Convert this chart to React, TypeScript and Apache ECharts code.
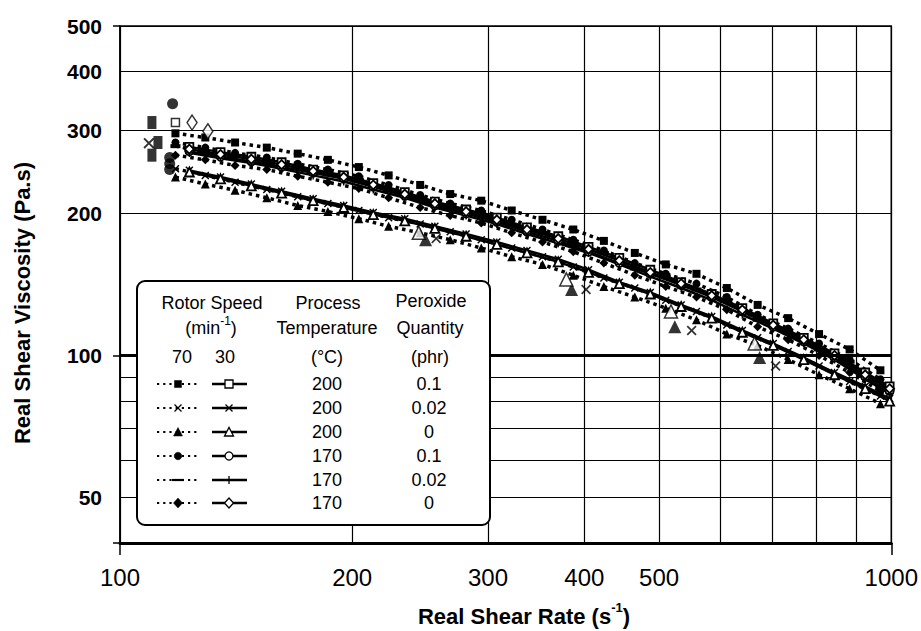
import React, { useEffect, useRef } from 'react';
import * as echarts from 'echarts';

const FONT = "'Liberation Sans', Arial, Helvetica, sans-serif";

// Shear rate (s^-1) of the measured points
const shearRate70 = [118, 129, 141, 155, 170, 186, 204, 223, 245, 268, 294, 322, 353, 387, 424, 465, 510, 559, 612, 671, 735, 806, 883, 968];
const shearRate30 = [123, 135, 148, 162, 178, 195, 213, 234, 256, 281, 308, 337, 370, 405, 444, 487, 534, 585, 641, 703, 770, 844, 925, 995];

// Real shear viscosity (Pa.s) — rotor speed 70 min^-1
const v70_200_01 = [296, 290, 283, 276, 268, 260, 251, 241, 230, 220, 213, 203, 194, 185, 175, 165, 156, 149, 139, 128, 120, 111, 103, 93];
const v70_200_002 = [249, 241, 233, 225, 217, 210, 203, 196, 190, 183, 176, 169, 162, 154, 146, 139, 131, 124, 116, 109, 102, 95, 88, 82];
const v70_200_0 = [239, 231, 224, 216, 208, 202, 195, 188, 182, 176, 169, 162, 156, 148, 140, 133, 126, 119, 111, 105, 98, 91, 85, 79];
const v70_170_01 = [283, 276, 269, 263, 255, 248, 240, 230, 219, 210, 203, 194, 185, 176, 167, 157, 149, 142, 133, 122, 114, 106, 98, 89];
const v70_170_002 = [278, 270, 265, 257, 251, 242, 236, 224, 216, 205, 200, 189, 182, 172, 165, 153, 147, 138, 131, 119, 113, 103, 97, 86];
const v70_170_0 = [266, 260, 253, 248, 240, 233, 226, 216, 206, 198, 191, 182, 174, 166, 157, 148, 140, 133, 125, 115, 108, 100, 92, 84];

// Real shear viscosity (Pa.s) — rotor speed 30 min^-1
const v30_200_01 = [277, 270, 264, 257, 248, 241, 232, 222, 212, 204, 196, 187, 179, 170, 161, 152, 143, 135, 126, 117, 109, 101, 92, 86];
const v30_200_002 = [247, 239, 231, 223, 215, 208, 201, 195, 188, 181, 174, 167, 160, 152, 143, 136, 128, 121, 113, 106, 99, 92, 86, 81];
const v30_200_0 = [245, 237, 229, 221, 213, 206, 199, 193, 186, 179, 172, 165, 158, 150, 142, 135, 127, 120, 112, 105, 98, 91, 85, 80];
const v30_170_01 = [271, 264, 258, 251, 244, 237, 228, 218, 208, 200, 192, 183, 175, 166, 157, 149, 141, 133, 124, 115, 107, 99, 90, 84];
const v30_170_002 = [269, 262, 256, 249, 241, 234, 225, 216, 206, 198, 190, 181, 173, 165, 156, 147, 139, 131, 122, 114, 106, 98, 89, 83];
const v30_170_0 = [274, 267, 261, 254, 246, 239, 230, 220, 210, 202, 194, 185, 177, 168, 159, 150, 142, 134, 125, 116, 108, 100, 91, 85];

// Run-start points [shear rate, viscosity]
const start70_200_01 = [[110, 312], [110, 266], [112, 283]];
const start70_170_01 = [[117, 342], [116, 263], [116, 255], [116, 248]];
const start70_200_002 = [[109, 282]];
const start30_200_01 = [[118, 312]];
const start30_170_0 = [[124, 312], [130, 299]];
const jumps70_200_0 = [[249, 176], [385, 138], [524, 115], [675, 99]];
const jumps30_200_0 = [[244, 182], [379, 145], [518, 124], [665, 106]];
const jumps30_200_002 = [[257, 177], [402, 138], [551, 113], [708, 95]];

// Axes
const xLabelValues = [100, 200, 300, 400, 500, 1000];
const xGridValues = [100, 200, 300, 400, 500, 600, 700, 800, 900, 1000];
const yLabelValues = [50, 100, 200, 300, 400, 500];
const yGridValues = [40, 50, 60, 70, 80, 90, 100, 200, 300, 400, 500];

// Legend table
const legendHeader = ['Rotor Speed', 'Process', 'Peroxide'];
const legendHeader2 = ['Temperature', 'Quantity'];
const speedLabels = ['70', '30'];
const legendTemps = ['200', '200', '200', '170', '170', '170'];
const legendPeroxide = ['0.1', '0.02', '0', '0.1', '0.02', '0'];
const markerKinds = ['square', 'x', 'triangle', 'circle', 'dash', 'diamond'];

const X_PATH = 'path://M1,0L4,3L7,0L8,1L5,4L8,7L7,8L4,5L1,8L0,7L3,4L0,1Z';
const PLUS_PATH = 'path://M3.3,0H4.7V3.3H8V4.7H4.7V8H3.3V4.7H0V3.3H3.3Z';

function symbolFor(kind: string, filled: boolean): { symbol: string; size: any } {
  switch (kind) {
    case 'square': return { symbol: 'rect', size: 8 };
    case 'x': return { symbol: X_PATH, size: 8 };
    case 'triangle': return { symbol: 'triangle', size: 9 };
    case 'circle': return { symbol: 'circle', size: 8 };
    case 'dash': return filled ? { symbol: 'rect', size: [10, 4] } : { symbol: PLUS_PATH, size: 8 };
    default: return { symbol: 'diamond', size: 9 };
  }
}

function lineSeries(name: string, xs: number[], ys: number[], kind: string, filled: boolean) {
  const s = symbolFor(kind, filled);
  const solidMark = kind === 'x' || kind === 'dash';
  return {
    type: 'line',
    name,
    data: xs.map((x, i) => [x, ys[i]]),
    symbol: s.symbol,
    symbolSize: s.size,
    showSymbol: true,
    lineStyle: filled ? { color: '#000', width: 3.5, type: [3.5, 4] } : { color: '#000', width: 2.5 },
    itemStyle: filled || solidMark
      ? { color: '#000', borderWidth: 0 }
      : { color: '#fff', borderColor: '#000', borderWidth: 1.8 },
    z: filled ? 3 : 4,
  };
}

function pointSeries(name: string, pts: number[][], kind: string, filled: boolean, size: any) {
  const s = symbolFor(kind, filled);
  const solidMark = kind === 'x' || kind === 'dash';
  return {
    type: 'scatter',
    name,
    data: pts,
    symbol: s.symbol,
    symbolSize: size,
    itemStyle: filled || solidMark
      ? { color: '#000', borderWidth: 0 }
      : { color: '#fff', borderColor: '#000', borderWidth: 1.5 },
    z: 5,
  };
}

function legendGraphics() {
  const Z = 100;
  const els: any[] = [];
  const txt = (text: string, x: number, y: number, size = 18) => ({
    type: 'text', z: Z + 1, x, y,
    style: {
      text, fill: '#000', fontSize: size, fontFamily: FONT,
      align: 'center', verticalAlign: 'middle', textAlign: 'center', textVerticalAlign: 'middle',
    },
  });
  const ln = (x1: number, y1: number, x2: number, y2: number, w: number, dash?: number[]) => ({
    type: 'line', z: Z + 2,
    shape: { x1, y1, x2, y2 },
    style: { stroke: '#000', lineWidth: w, lineDash: dash || null },
  });
  els.push({
    type: 'rect', z: Z,
    shape: { x: 137, y: 281, width: 353, height: 244, r: 8 },
    style: { fill: '#fff', stroke: '#000', lineWidth: 2 },
  });
  els.push(txt(legendHeader[0], 212, 303));
  els.push(txt(legendHeader[1], 328, 303));
  els.push(txt(legendHeader[2], 431, 301));
  els.push({
    type: 'text', z: Z + 1, x: 211, y: 328,
    style: {
      text: '{a|(min}{b|-1}{a|)}', fontFamily: FONT, fill: '#000',
      align: 'center', verticalAlign: 'middle', textAlign: 'center', textVerticalAlign: 'middle',
      rich: {
        a: { fontSize: 18, lineHeight: 26, fontFamily: FONT, fill: '#000' },
        b: { fontSize: 12, lineHeight: 12, verticalAlign: 'top', fontFamily: FONT, fill: '#000' },
      },
    },
  });
  els.push(txt(legendHeader2[0], 327, 328));
  els.push(txt(legendHeader2[1], 430, 328));
  els.push(txt(speedLabels[0], 182, 357));
  els.push(txt(speedLabels[1], 225, 357));
  els.push(txt('(°C)', 327, 357));
  els.push(txt('(phr)', 430, 357));

  const rowY = [384, 408, 432, 456, 480, 503];
  const mark = (kind: string, cx: number, cy: number, filled: boolean) => {
    const st = { fill: filled ? '#000' : '#fff', stroke: '#000', lineWidth: filled ? 0.5 : 1.3 };
    const Zm = Z + 3;
    switch (kind) {
      case 'square':
        return [{ type: 'rect', z: Zm, shape: filled ? { x: cx - 3.5, y: cy - 3.5, width: 7, height: 7 } : { x: cx - 4, y: cy - 4, width: 8, height: 8 }, style: st }];
      case 'x':
        return [
          { ...ln(cx - 3.5, cy - 3.5, cx + 3.5, cy + 3.5, 1.3), z: Zm },
          { ...ln(cx - 3.5, cy + 3.5, cx + 3.5, cy - 3.5, 1.3), z: Zm },
        ];
      case 'triangle':
        return [{ type: 'polygon', z: Zm, shape: { points: [[cx - 4.5, cy + 4], [cx + 4.5, cy + 4], [cx, cy - 4.5]] }, style: st }];
      case 'circle':
        return [{ type: 'circle', z: Zm, shape: { cx, cy, r: filled ? 3.8 : 4 }, style: st }];
      case 'dash':
        return filled
          ? [{ ...ln(cx - 6, cy, cx + 6, cy, 2.2), z: Zm }]
          : [{ ...ln(cx, cy - 4, cx, cy + 4, 1.3), z: Zm }];
      default:
        return [{ type: 'polygon', z: Zm, shape: { points: [[cx, cy - 5], [cx + 4.5, cy], [cx, cy + 5], [cx - 4.5, cy]] }, style: st }];
    }
  };
  rowY.forEach((y, i) => {
    const kind = markerKinds[i];
    els.push(ln(157, y, 197, y, 2.2, [2.2, 4]));
    els.push(ln(212, y, 247, y, 2.5));
    if (kind === 'dash') {
      els.push({ type: 'rect', z: Z + 2, shape: { x: 172, y: y - 3, width: 12, height: 6 }, style: { fill: '#fff' } });
    }
    els.push(...mark(kind, 178, y, true));
    els.push(...mark(kind, 229, y, false));
    els.push(txt(legendTemps[i], 327, y));
    els.push(txt(legendPeroxide[i], 429, y));
  });
  return els;
}

export default function App() {
  const ref = useRef<HTMLDivElement>(null);
  useEffect(() => {
    if (!ref.current) return;
    const chart = echarts.init(ref.current, undefined, { renderer: 'svg' });
    const series: any[] = [
      lineSeries('70 min-1, 200 °C, 0.1 phr', shearRate70, v70_200_01, 'square', true),
      lineSeries('70 min-1, 200 °C, 0.02 phr', shearRate70, v70_200_002, 'x', true),
      lineSeries('70 min-1, 200 °C, 0 phr', shearRate70, v70_200_0, 'triangle', true),
      lineSeries('70 min-1, 170 °C, 0.1 phr', shearRate70, v70_170_01, 'circle', true),
      lineSeries('70 min-1, 170 °C, 0.02 phr', shearRate70, v70_170_002, 'dash', true),
      lineSeries('70 min-1, 170 °C, 0 phr', shearRate70, v70_170_0, 'diamond', true),
      lineSeries('30 min-1, 200 °C, 0.1 phr', shearRate30, v30_200_01, 'square', false),
      lineSeries('30 min-1, 200 °C, 0.02 phr', shearRate30, v30_200_002, 'x', false),
      lineSeries('30 min-1, 200 °C, 0 phr', shearRate30, v30_200_0, 'triangle', false),
      lineSeries('30 min-1, 170 °C, 0.1 phr', shearRate30, v30_170_01, 'circle', false),
      lineSeries('30 min-1, 170 °C, 0.02 phr', shearRate30, v30_170_002, 'dash', false),
      lineSeries('30 min-1, 170 °C, 0 phr', shearRate30, v30_170_0, 'diamond', false),
      pointSeries('start 70/200/0.1', start70_200_01, 'square', true, [9, 13]),
      pointSeries('start 70/170/0.1', start70_170_01, 'circle', true, 11),
      pointSeries('start 70/200/0.02', start70_200_002, 'x', true, 11),
      pointSeries('start 30/200/0.1', start30_200_01, 'square', false, 8),
      pointSeries('start 30/170/0', start30_170_0, 'diamond', false, [10, 15]),
      pointSeries('jumps 70/200/0', jumps70_200_0, 'triangle', true, 13),
      pointSeries('jumps 30/200/0', jumps30_200_0, 'triangle', false, 13),
      pointSeries('jumps 30/200/0.02', jumps30_200_002, 'x', true, 10),
    ];
    series[0].markLine = {
      silent: true, symbol: 'none', animation: false,
      label: { show: false },
      lineStyle: { color: '#000', width: 3, type: 'solid' },
      data: [{ yAxis: 100 }],
    };
    const fmt = (v: number) => String(Math.round(v));
    chart.setOption({
      animation: false,
      backgroundColor: '#fff',
      grid: { left: 120, right: 27, top: 26, bottom: 88, show: true, borderColor: '#000', borderWidth: 1.5 },
      xAxis: [
        {
          type: 'log', logBase: 10, min: 100, max: 1000,
          axisLine: { show: true, onZero: false, lineStyle: { color: '#000', width: 3 } },
          axisTick: { show: false, customValues: xGridValues },
          axisLabel: { customValues: xLabelValues, formatter: fmt, fontSize: 24, color: '#000', margin: 22, fontFamily: FONT },
          splitLine: { show: true, lineStyle: { color: '#000', width: 1.2 } },
        },
        {
          type: 'log', logBase: 10, min: 100, max: 1000, position: 'bottom',
          axisLine: { show: false }, axisLabel: { show: false }, splitLine: { show: false },
          axisTick: { show: true, customValues: [100, 1000], length: 12, lineStyle: { color: '#000', width: 1.5 } },
        },
      ],
      yAxis: [
        {
          type: 'log', logBase: 10, min: 40, max: 500,
          axisLine: { show: true, onZero: false, lineStyle: { color: '#000', width: 1.5 } },
          axisTick: { show: false, customValues: yGridValues },
          axisLabel: { customValues: yLabelValues, formatter: fmt, fontSize: 21, fontWeight: 'bold', color: '#000', margin: 18, fontFamily: FONT },
          splitLine: { show: true, lineStyle: { color: '#000', width: 1.2 } },
        },
        {
          type: 'log', logBase: 10, min: 40, max: 500, position: 'left',
          axisLine: { show: false }, axisLabel: { show: false }, splitLine: { show: false },
          axisTick: { show: true, customValues: [40, 100, 500], length: 7, lineStyle: { color: '#000', width: 1.5 } },
        },
      ],
      series,
      graphic: {
        elements: [
          ...legendGraphics(),
          {
            type: 'text', z: 100, x: 22, y: 303, rotation: Math.PI / 2,
            style: {
              text: 'Real Shear Viscosity (Pa.s)', fontSize: 22, fontWeight: 'bold', fontFamily: FONT, fill: '#000',
              align: 'center', verticalAlign: 'middle', textAlign: 'center', textVerticalAlign: 'middle',
            },
          },
          {
            type: 'text', z: 100, x: 524, y: 616,
            style: {
              text: '{a|Real Shear Rate (s}{b|-1}{a|)}', fontFamily: FONT, fill: '#000',
              align: 'center', verticalAlign: 'middle', textAlign: 'center', textVerticalAlign: 'middle',
              rich: {
                a: { fontSize: 22, lineHeight: 30, fontFamily: FONT, fill: '#000', fontWeight: 'bold' },
                b: { fontSize: 13, lineHeight: 14, verticalAlign: 'top', fontFamily: FONT, fill: '#000', fontWeight: 'bold' },
              },
            },
          },
        ],
      },
    });
    return () => chart.dispose();
  }, []);
  return <div ref={ref} style={{ position: 'fixed', left: 0, top: 0, width: 921, height: 631, background: '#fff' }} />;
}
